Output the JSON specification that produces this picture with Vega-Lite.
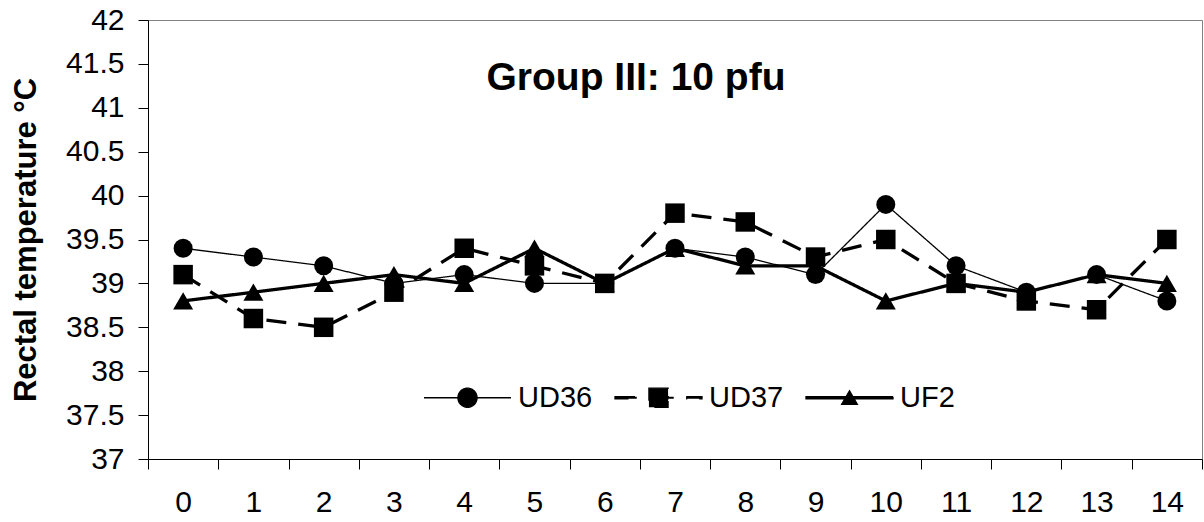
{
  "$schema": "https://vega.github.io/schema/vega-lite/v6.json",
  "width": 1054,
  "height": 439,
  "autosize": {"type": "none"},
  "padding": {"left": 148, "top": 20, "right": 2, "bottom": 63},
  "background": "white",
  "config": {
    "view": {"stroke": "#808080", "strokeWidth": 1},
    "font": "Liberation Sans"
  },
  "title": {
    "text": "Group III: 10 pfu",
    "font": "Liberation Sans",
    "fontSize": 39,
    "fontWeight": "bold",
    "color": "black",
    "anchor": "middle",
    "frame": "group",
    "baseline": "alphabetic",
    "offset": -124,
    "dx": -39
  },
  "data": {
    "values": [
      {"day": 0, "series": "UD36", "temp": 39.4},
      {"day": 1, "series": "UD36", "temp": 39.3},
      {"day": 2, "series": "UD36", "temp": 39.2},
      {"day": 3, "series": "UD36", "temp": 39.0},
      {"day": 4, "series": "UD36", "temp": 39.1},
      {"day": 5, "series": "UD36", "temp": 39.0},
      {"day": 6, "series": "UD36", "temp": 39.0},
      {"day": 7, "series": "UD36", "temp": 39.4},
      {"day": 8, "series": "UD36", "temp": 39.3},
      {"day": 9, "series": "UD36", "temp": 39.1},
      {"day": 10, "series": "UD36", "temp": 39.9},
      {"day": 11, "series": "UD36", "temp": 39.2},
      {"day": 12, "series": "UD36", "temp": 38.9},
      {"day": 13, "series": "UD36", "temp": 39.1},
      {"day": 14, "series": "UD36", "temp": 38.8},
      {"day": 0, "series": "UD37", "temp": 39.1},
      {"day": 1, "series": "UD37", "temp": 38.6},
      {"day": 2, "series": "UD37", "temp": 38.5},
      {"day": 3, "series": "UD37", "temp": 38.9},
      {"day": 4, "series": "UD37", "temp": 39.4},
      {"day": 5, "series": "UD37", "temp": 39.2},
      {"day": 6, "series": "UD37", "temp": 39.0},
      {"day": 7, "series": "UD37", "temp": 39.8},
      {"day": 8, "series": "UD37", "temp": 39.7},
      {"day": 9, "series": "UD37", "temp": 39.3},
      {"day": 10, "series": "UD37", "temp": 39.5},
      {"day": 11, "series": "UD37", "temp": 39.0},
      {"day": 12, "series": "UD37", "temp": 38.8},
      {"day": 13, "series": "UD37", "temp": 38.7},
      {"day": 14, "series": "UD37", "temp": 39.5},
      {"day": 0, "series": "UF2", "temp": 38.8},
      {"day": 1, "series": "UF2", "temp": 38.9},
      {"day": 2, "series": "UF2", "temp": 39.0},
      {"day": 3, "series": "UF2", "temp": 39.1},
      {"day": 4, "series": "UF2", "temp": 39.0},
      {"day": 5, "series": "UF2", "temp": 39.4},
      {"day": 6, "series": "UF2", "temp": 39.0},
      {"day": 7, "series": "UF2", "temp": 39.4},
      {"day": 8, "series": "UF2", "temp": 39.2},
      {"day": 9, "series": "UF2", "temp": 39.2},
      {"day": 10, "series": "UF2", "temp": 38.8},
      {"day": 11, "series": "UF2", "temp": 39.0},
      {"day": 12, "series": "UF2", "temp": 38.9},
      {"day": 13, "series": "UF2", "temp": 39.1},
      {"day": 14, "series": "UF2", "temp": 39.0}
    ]
  },
  "encoding": {
    "x": {
      "field": "day",
      "type": "ordinal",
      "sort": "ascending",
      "scale": {"type": "band", "paddingInner": 0, "paddingOuter": 0},
      "axis": {
        "title": null,
        "labelAngle": 0,
        "tickBand": "extent",
        "labelFont": "Liberation Sans",
        "labelFontSize": 30,
        "labelColor": "black",
        "labelPadding": 18,
        "tickSize": 10,
        "tickColor": "black",
        "domainColor": "black",
        "grid": false
      }
    },
    "y": {
      "field": "temp",
      "type": "quantitative",
      "scale": {"domain": [37, 42], "nice": false, "zero": false},
      "axis": {
        "values": [37, 37.5, 38, 38.5, 39, 39.5, 40, 40.5, 41, 41.5, 42],
        "labelExpr": "'' + datum.value",
        "labelFont": "Liberation Sans",
        "labelFontSize": 30,
        "labelColor": "black",
        "labelPadding": 14,
        "labelFlush": false,
        "labelOverlap": false,
        "tickSize": 10,
        "tickColor": "black",
        "domainColor": "black",
        "grid": false,
        "title": "Rectal temperature °C",
        "titleFont": "Liberation Sans",
        "titleFontSize": 31,
        "titleFontWeight": "bold",
        "titleColor": "black",
        "titleAngle": -90,
        "titleAlign": "center",
        "titleBaseline": "alphabetic",
        "titleX": -113,
        "titleY": 219.5
      }
    }
  },
  "layer": [
    {
      "mark": {"type": "line", "color": "black", "strokeCap": "butt"},
      "encoding": {
        "detail": {"field": "series"},
        "strokeWidth": {
          "condition": {"test": "datum.series === 'UD36'", "value": 1.3},
          "value": 3.3
        },
        "strokeDash": {
          "field": "series",
          "type": "nominal",
          "scale": {"domain": ["UD36", "UD37", "UF2"], "range": [[1, 0], [20, 12], [1, 0]]},
          "legend": {
            "title": null,
            "orient": "none",
            "direction": "horizontal",
            "legendX": 275,
            "legendY": 333,
            "padding": 0,
            "symbolSize": 7569,
            "symbolStrokeWidth": 1.3,
            "labelOffset": 6,
            "columnPadding": 19,
            "labelFont": "Liberation Sans",
            "labelFontSize": 29,
            "labelColor": "black",
            "labelLimit": 300,
            "encoding": {
              "symbols": {
                "shape": {"value": {"expr": "datum.value === 'UD36' ? 'M-1,0H1M-0.22,0A0.22,0.22,0,1,0,0.22,0A0.22,0.22,0,1,0,-0.22,0Z' : datum.value === 'UD37' ? 'M-1,-0.023H-0.5V0.023H-1ZM-0.22,-0.023H0.35V0.023H-0.22ZM0.65,-0.023H1V0.023H0.65ZM-0.22,-0.22H0.22V0.22H-0.22Z' : 'M-1,-0.023H1V0.023H-1ZM0,-0.16L0.18,0.15H-0.18Z'"}},
                "size": {"value": 7569},
                "fill": {"value": "black"},
                "fillOpacity": {"value": 1},
                "stroke": {"value": "black"},
                "strokeDash": {"value": [1, 0]},
                "strokeWidth": {"value": 1.3},
                "opacity": {"value": 1}
              }
            }
          }
        }
      }
    },
    {
      "mark": {"type": "point", "filled": true, "color": "black", "opacity": 1, "strokeWidth": 0},
      "encoding": {
        "shape": {
          "condition": [
            {"test": "datum.series === 'UD36'", "value": "circle"},
            {"test": "datum.series === 'UD37'", "value": "square"}
          ],
          "value": "triangle-up"
        },
        "size": {
          "condition": [
            {"test": "datum.series === 'UD36'", "value": 361},
            {"test": "datum.series === 'UD37'", "value": 380}
          ],
          "value": 400
        }
      }
    }
  ]
}
